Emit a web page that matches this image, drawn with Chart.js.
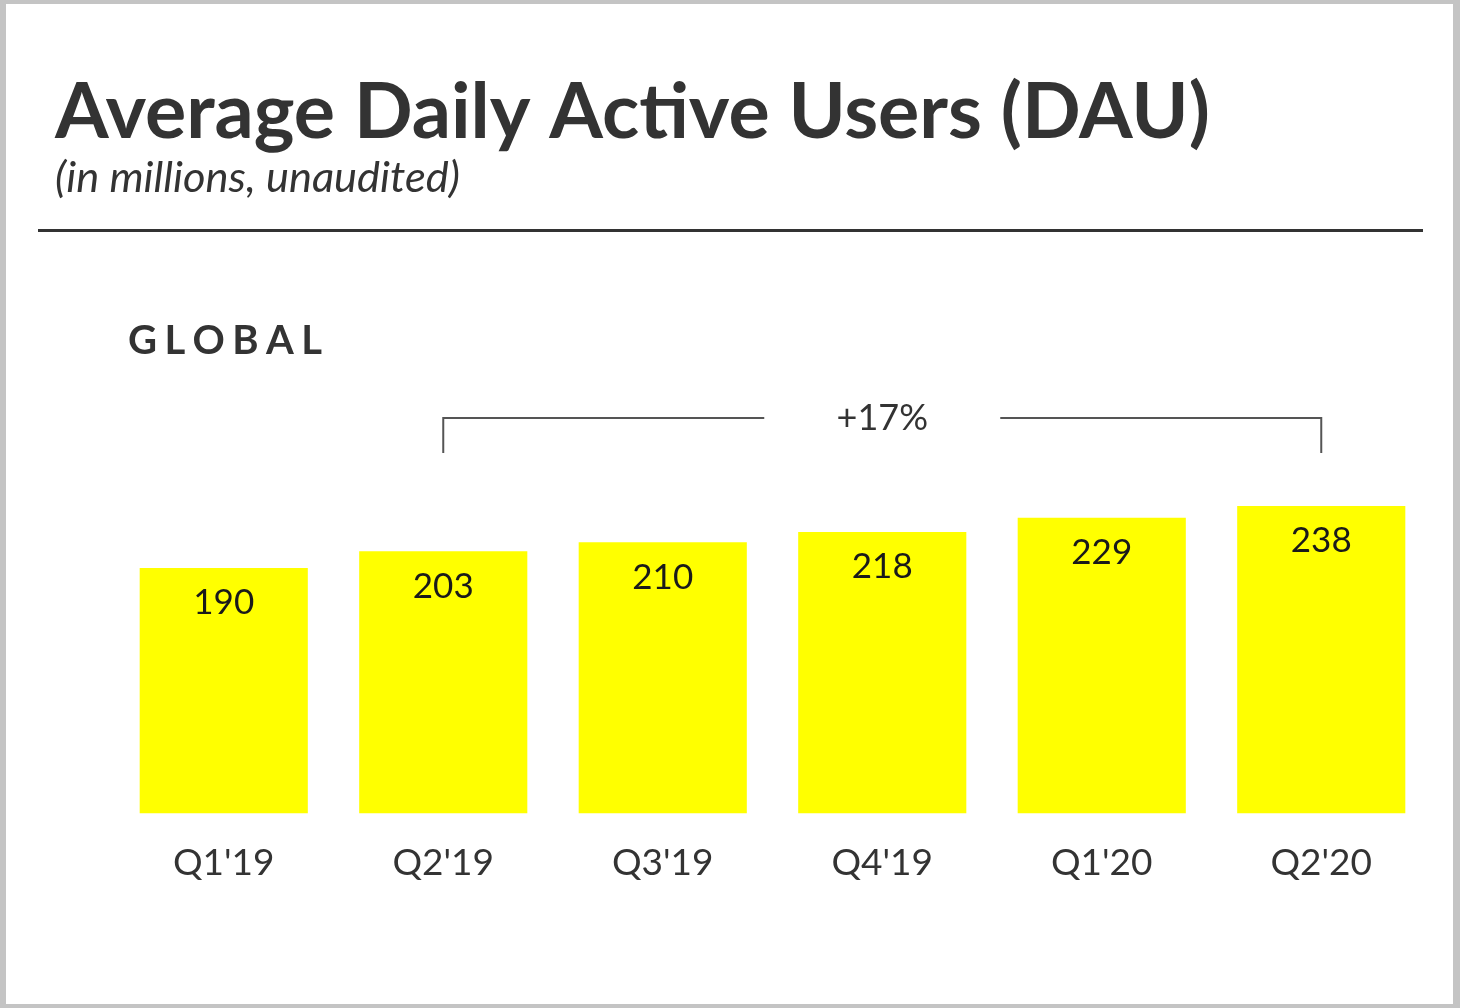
<!DOCTYPE html>
<html>
<head>
<meta charset="utf-8">
<script src="https://cdn.jsdelivr.net/npm/chart.js@4.4.1/dist/chart.umd.min.js"></script>
<style>
  html, body { margin: 0; padding: 0; overflow: hidden; background: #c4c4c4; }
  #frame { position: relative; width: 1460px; height: 1008px; }
  #panel { position: absolute; left: 6px; top: 4px; width: 1447px; height: 1000px; background: #fff; }
  #chart { position: absolute; left: 0; top: 0; }
</style>
</head>
<body>
<div id="frame">
  <div id="panel"></div>
  <canvas id="chart" width="1460" height="1008"></canvas>
</div>
<script>
const quarters = ["Q1'19", "Q2'19", "Q3'19", "Q4'19", "Q1'20", "Q2'20"];
const dau = [190, 203, 210, 218, 229, 238];
const growthLabel = "+17%";
const growthFrom = 1;   // Q2'19
const growthTo = 5;     // Q2'20

const FONT = "Lato, 'Noto Sans', sans-serif";
const INK = "#333333";

// pick a font size so the text spans a given width
function fitSize(ctx, text, style, width) {
  ctx.font = style + " 100px " + FONT;
  return 100 * width / ctx.measureText(text).width;
}

const headerPlugin = {
  id: "header",
  beforeDraw(chart) {
    const ctx = chart.ctx;
    ctx.save();
    ctx.fillStyle = INK;
    ctx.textAlign = "left";
    ctx.textBaseline = "alphabetic";

    let s = fitSize(ctx, "Average Daily Active Users (DAU)", "bold", 1155);
    ctx.font = "bold " + s + "px " + FONT;
    ctx.fillText("Average Daily Active Users (DAU)", 55, 138);

    s = fitSize(ctx, "(in millions, unaudited)", "italic", 405);
    ctx.font = "italic " + s + "px " + FONT;
    ctx.fillText("(in millions, unaudited)", 55, 192);

    ctx.fillStyle = INK;
    ctx.fillRect(38, 229, 1385, 3);

    // spaced-out section label
    ctx.font = "bold 40px " + FONT;
    const word = "GLOBAL";
    let total = 0;
    for (const ch of word) total += ctx.measureText(ch).width;
    const gap = (194 - total) / (word.length - 1);
    let x = 128;
    for (const ch of word) {
      ctx.fillText(ch, x, 354);
      x += ctx.measureText(ch).width + gap;
    }
    ctx.restore();
  }
};

const barLabelPlugin = {
  id: "barLabels",
  afterDatasetsDraw(chart) {
    const ctx = chart.ctx;
    const meta = chart.getDatasetMeta(0);
    ctx.save();
    ctx.fillStyle = "#1a1a1a";
    ctx.font = "35px " + FONT;
    ctx.textAlign = "center";
    ctx.textBaseline = "middle";
    meta.data.forEach((bar, i) => {
      ctx.fillText(String(dau[i]), bar.x, bar.y + 35);
    });
    ctx.restore();
  }
};

const bracketPlugin = {
  id: "bracket",
  afterDraw(chart) {
    const ctx = chart.ctx;
    const xs = chart.scales.x;
    const x1 = xs.getPixelForValue(growthFrom);
    const x2 = xs.getPixelForValue(growthTo);
    const top = chart.chartArea.top - 8;
    const mid = (x1 + x2) / 2;
    ctx.save();
    ctx.strokeStyle = "#555555";
    ctx.lineWidth = 2;
    ctx.beginPath();
    ctx.moveTo(x1, top + 35);
    ctx.lineTo(x1, top);
    ctx.lineTo(mid - 118, top);
    ctx.moveTo(mid + 118, top);
    ctx.lineTo(x2, top);
    ctx.lineTo(x2, top + 35);
    ctx.stroke();
    ctx.fillStyle = INK;
    ctx.font = "36px " + FONT;
    ctx.textAlign = "center";
    ctx.textBaseline = "middle";
    ctx.fillText(growthLabel, mid, top);
    ctx.restore();
  }
};

new Chart(document.getElementById("chart").getContext("2d"), {
  type: "bar",
  data: {
    labels: quarters,
    datasets: [{
      data: dau,
      backgroundColor: "#ffff00",
      borderWidth: 0,
      categoryPercentage: 1,
      barPercentage: 0.766
    }]
  },
  options: {
    responsive: false,
    animation: false,
    devicePixelRatio: 1,
    layout: { padding: { left: 114, right: 29, top: 426, bottom: 96 } },
    plugins: {
      legend: { display: false },
      tooltip: { enabled: false }
    },
    scales: {
      x: {
        grid: { display: false, drawTicks: false },
        border: { display: false },
        ticks: {
          color: INK,
          font: { family: FONT, size: 37 },
          padding: 27,
          autoSkip: false,
          maxRotation: 0
        }
      },
      y: { display: false, min: 0, max: 300 }
    }
  },
  plugins: [headerPlugin, barLabelPlugin, bracketPlugin]
});
</script>
</body>
</html>
